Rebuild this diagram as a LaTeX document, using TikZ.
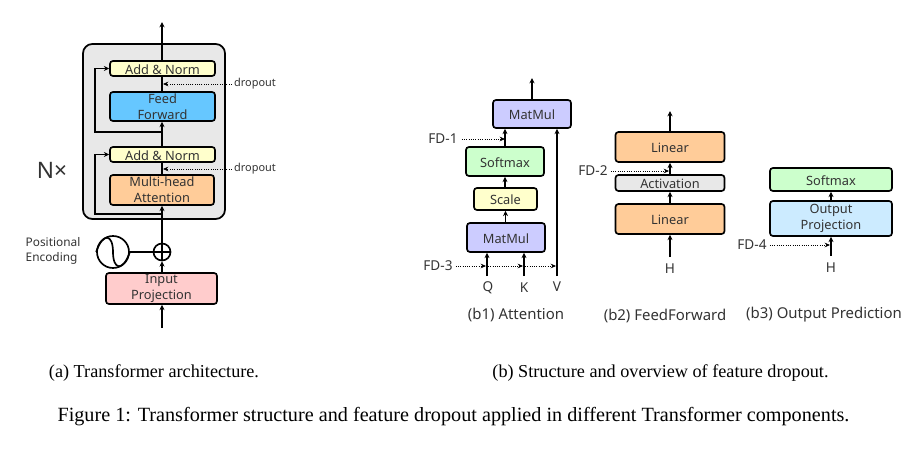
\documentclass[tikz,border=0pt]{standalone}
\usepackage{fontspec}
\setmainfont{Liberation Serif}
\newfontfamily\blockfont{Noto Sans}
\usetikzlibrary{arrows.meta}
\definecolor{add_yellow}{RGB}{255,255,204}
\definecolor{feed_blue}{RGB}{102,199,255}
\definecolor{attn_orange}{RGB}{255,204,153}
\definecolor{input_pink}{RGB}{255,204,204}
\definecolor{mat_lavender}{RGB}{204,204,255}
\definecolor{soft_green}{RGB}{204,255,204}
\definecolor{proj_blue}{RGB}{204,235,255}
\definecolor{stack_gray}{RGB}{232,232,232}
\newcommand{\px}{0.75pt}
\tikzset{
  blockbox/.style={draw, rounded corners=2.2pt, line width=1.25pt, inner sep=0pt, align=center, text=black!80, font=\blockfont\fontsize{9.6}{11.8}\selectfont, execute at begin node={\rule{0pt}{9pt}}},
  plainlabel/.style={inner sep=0pt, text=black!80, font=\blockfont\fontsize{10.2}{12}\selectfont},
  capt/.style={inner sep=0pt, font=\fontsize{13.65}{16}\selectfont},
  subcapt/.style={inner sep=0pt, text=black!80, font=\blockfont\fontsize{11.2}{13}\selectfont},
  flow/.style={-{Stealth[length=4pt,width=3.8pt]}, line width=1.25pt},
  drop/.style={-{Stealth[length=4pt,width=3.5pt]}, line width=0.7pt, densely dotted},
}
\begin{document}
\begin{tikzpicture}[x=\px, y=-\px]
  \useasboundingbox (0,0) rectangle (909,452);
  % (a) stack
  \node (stack) at (154,131.5) [draw, rounded corners=7pt, line width=1.3pt, fill=stack_gray, minimum width=142*\px, minimum height=175*\px] {};
  \node (addT) at (162.5,68.5) [blockbox, fill=add_yellow, minimum width=105*\px, minimum height=15*\px] {Add \& Norm};
  \node (feed) at (162.5,106.5) [blockbox, fill=feed_blue, minimum width=105*\px, minimum height=29*\px] {Feed\\Forward};
  \node (addB) at (162.5,154.5) [blockbox, fill=add_yellow, minimum width=105*\px, minimum height=15*\px] {Add \& Norm};
  \node (attn) at (162,190) [blockbox, fill=attn_orange, minimum width=104*\px, minimum height=30*\px] {Multi-head\\Attention};
  \node (input) at (161.5,288.5) [blockbox, fill=input_pink, minimum width=111*\px, minimum height=31*\px] {Input\\Projection};
  \node (sine) at (113,252) [draw, circle, line width=1.25pt, minimum size=32*\px, inner sep=0pt] {};
  \node (plus) at (162,252) [draw, circle, line width=1.25pt, minimum size=17*\px, inner sep=0pt] {};
  \node (posenc) at (53,251) [plainlabel, align=left, font=\blockfont\fontsize{8.9}{11.4}\selectfont] {Positional\\Encoding};
  \node (nx) at (52,170.5) [plainlabel, font=\blockfont\fontsize{17}{18}\selectfont] {N×};
  \node (dropT) at (255,84) [plainlabel, font=\blockfont\fontsize{8.2}{9}\selectfont] {dropout};
  \node (dropB) at (255,169) [plainlabel, font=\blockfont\fontsize{8.2}{9}\selectfont] {dropout};
  \coordinate (outA) at (162,22);
  \coordinate (inA) at (162,328);
  \coordinate (skipT) at (162,132);
  \coordinate (skipB) at (162,214);
  \coordinate (hitT) at (163,84);
  \coordinate (hitB) at (163,169);
  \draw[flow] (addT.north -| outA) -- (outA);
  \draw[flow] (inA) -- (input.south -| inA);
  \draw[flow] (input.north -| plus) -- (plus.south);
  \draw[flow] (plus.south) -- (attn.south -| plus);
  \draw[line width=1.25pt] (plus.west) -- (plus.east);
  \draw[line width=1.25pt] (plus.west) -- (sine.east);
  \draw[line width=1.25pt] (sine.west) .. controls (103,232) and (113,234) .. (113,252) .. controls (113,270) and (123,272) .. (sine.east);
  \draw[flow] (addB.north -| plus) -- (feed.south -| plus);
  \draw[line width=1.25pt] (feed.north -| plus) -- (addT.south -| plus);
  \draw[line width=1.25pt] (attn.north -| plus) -- (addB.south -| plus);
  \draw[flow] (skipT) -- (95,132) -- (95,68.5) -- (addT.west);
  \draw[flow] (skipB) -- (95,214) -- (95,154.5) -- (addB.west);
  \draw[drop] (dropT.west) ++(-2,0) -- (hitT);
  \draw[drop] (dropB.west) ++(-2,0) -- (hitB);
  % (b1) attention
  \node (matT) at (532,114) [blockbox, fill=mat_lavender, minimum width=78*\px, minimum height=28*\px] {MatMul};
  \node (softA) at (505,161.5) [blockbox, fill=soft_green, minimum width=78*\px, minimum height=29*\px] {Softmax};
  \node (scale) at (505.5,199) [blockbox, fill=add_yellow, minimum width=63*\px, minimum height=22*\px] {Scale};
  \node (matB) at (506,237.5) [blockbox, fill=mat_lavender, minimum width=78*\px, minimum height=29*\px] {MatMul};
  \node (labQ) at (488,288) [plainlabel] {Q};
  \node (labK) at (524,288) [plainlabel] {K};
  \node (labV) at (557,287) [plainlabel] {V};
  \node (fdA) at (443,139) [plainlabel] {FD-1};
  \node (fdC) at (438,266) [plainlabel] {FD-3};
  \coordinate (outB) at (532,78);
  \coordinate (inQ) at (487,276);
  \coordinate (inK) at (524,276);
  \coordinate (inV) at (557,276);
  \coordinate (hitA) at (505,139);
  \coordinate (hitQ) at (486,266);
  \coordinate (hitK) at (523,266);
  \coordinate (hitV) at (556,266);
  \draw[flow] (matT.north -| outB) -- (outB);
  \draw[flow] (softA.north) -- (matT.south -| softA);
  \draw[flow] (scale.north -| softA) -- (softA.south);
  \draw[flow] (matB.north -| scale) -- (scale.south);
  \draw[flow] (inQ) -- (matB.south -| inQ);
  \draw[flow] (inK) -- (matB.south -| inK);
  \draw[flow] (inV) -- (matT.south -| inV);
  \draw[drop] (fdA.east) ++(4,0) -- (hitA);
  \draw[drop] (fdC.east) ++(3,0) -- (hitQ);
  \draw[drop] (hitQ) ++(2,0) -- (hitK);
  \draw[drop] (hitK) ++(2,0) -- (hitV);
  % (b2) feedforward
  \node (linT) at (670,147) [blockbox, fill=attn_orange, minimum width=109*\px, minimum height=30*\px] {Linear};
  \node (activ) at (670,183) [blockbox, fill=stack_gray, minimum width=109*\px, minimum height=16*\px] {Activation};
  \node (linB) at (670,219) [blockbox, fill=attn_orange, minimum width=109*\px, minimum height=30*\px] {Linear};
  \node (labH) at (670,269) [plainlabel] {H};
  \node (fdB) at (593,171) [plainlabel] {FD-2};
  \coordinate (outF) at (670,111);
  \coordinate (inH) at (670,257);
  \coordinate (hitF) at (669,171);
  \draw[flow] (linT.north) -- (outF);
  \draw[flow] (activ.north) -- (linT.south);
  \draw[flow] (linB.north) -- (activ.south);
  \draw[flow] (inH) -- (linB.south);
  \draw[drop] (fdB.east) ++(3,0) -- (hitF);
  % (b3) output prediction
  \node (softB) at (831,179.5) [blockbox, fill=soft_green, minimum width=122*\px, minimum height=23*\px] {Softmax};
  \node (outP) at (831,218.5) [blockbox, fill=proj_blue, minimum width=122*\px, minimum height=35*\px] {Output\\Projection};
  \node (labHb) at (831,268) [plainlabel] {H};
  \node (fdD) at (752,245) [plainlabel] {FD-4};
  \coordinate (inHb) at (831,256);
  \coordinate (hitP) at (830,245);
  \draw[flow] (outP.north) -- (softB.south);
  \draw[flow] (inHb) -- (outP.south);
  \draw[drop] (fdD.east) ++(3,0) -- (hitP);
  % captions
  \node (subA) at (516,315) [subcapt] {(b1) Attention};
  \node (subB) at (665,316) [subcapt] {(b2) FeedForward};
  \node (subC) at (824,315) [subcapt] {(b3) Output Prediction};
  \node (captA) at (154,373.5) [capt] {(a) Transformer architecture.};
  \node (captB) at (660.5,373.5) [capt] {(b) Structure and overview of feature dropout.};
  \node (captF) at (453.5,416.5) [capt, font=\fontsize{15.15}{18}\selectfont] {Figure 1: Transformer structure and feature dropout applied in different Transformer components.};
\end{tikzpicture}
\end{document}
